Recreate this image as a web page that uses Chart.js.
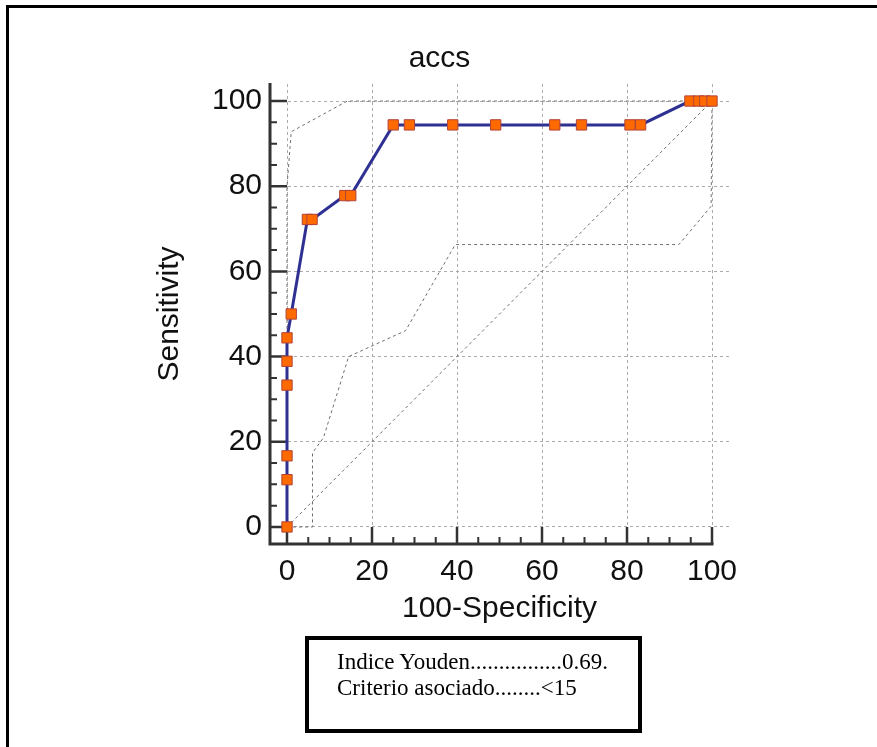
<!DOCTYPE html>
<html>
<head>
<meta charset="utf-8">
<title>accs</title>
<script src="https://cdn.jsdelivr.net/npm/chart.js@4.4.1/dist/chart.umd.min.js"></script>
<style>
  body { margin: 0; background: #fff; }
  #wrap { position: relative; width: 877px; height: 747px; overflow: hidden; }
  #roc { position: absolute; left: 0; top: 0; }
  #frame { position: absolute; left: 6px; top: 5px; right: 0; bottom: 0;
           border-left: 3px solid #000; border-top: 3px solid #000; }
  #youden { position: absolute; left: 305px; top: 636px; width: 329px; height: 89px;
            border: 4px solid #000; background: #fff;
            font: 23px "Liberation Serif", "Times New Roman", serif; line-height: 26px;
            color: #000; }
  #youden div { position: relative; left: 28px; top: 9px; white-space: nowrap; }
</style>
</head>
<body>
<div id="wrap">
  <canvas id="roc" width="877" height="747"></canvas>
  <div id="frame"></div>
  <div id="youden">
    <div>Indice Youden................0.69.</div>
    <div>Criterio asociado........&lt;15</div>
  </div>
</div>
<script>
// ROC curve (100-Specificity, Sensitivity)
const rocFpr  = [0, 0, 0, 0, 0, 0, 1.0, 4.8, 5.9, 13.6, 15.0, 25.0, 28.8, 39.0, 49.1, 63.0, 69.3, 80.7, 83.2, 94.8, 96.9, 98.3, 100];
const rocSens = [0, 11.1, 16.7, 33.3, 38.9, 44.4, 50.0, 72.2, 72.2, 77.8, 77.8, 94.4, 94.4, 94.4, 94.4, 94.4, 94.4, 94.4, 94.4, 100, 100, 100, 100];

// confidence bounds (dotted)
const upperFpr  = [0, 0, 1.0, 14.2, 100];
const upperSens = [0, 80.0, 92.8, 100, 100];
const lowerFpr  = [0, 6.0, 6.0, 8.6, 14.5, 27.9, 39.6, 92.2, 99.8, 100];
const lowerSens = [0, 0, 17.4, 21.0, 40.0, 46.1, 66.3, 66.3, 75.3, 100];

// chance line
const diagFpr  = [0, 100];
const diagSens = [0, 100];

const xTicks = [0, 20, 40, 60, 80, 100];
const yTicks = [0, 20, 40, 60, 80, 100];
const minorStep = 5;

const pts = (xs, ys) => xs.map((v, i) => ({x: v, y: ys[i]}));

const txtFont = {family: "'Liberation Sans', Arial, sans-serif", size: 30, weight: 'normal'};

const rocAxes = {
  id: 'rocAxes',
  beforeDatasetsDraw(chart) {
    const {ctx, chartArea: a, scales: {x, y}} = chart;
    const x0 = x.getPixelForValue(0), y0 = y.getPixelForValue(0);
    ctx.save();
    ctx.strokeStyle = '#333';
    ctx.lineCap = 'butt';
    // axis lines
    ctx.lineWidth = 3;
    ctx.beginPath();
    ctx.moveTo(a.left, a.top - 1);
    ctx.lineTo(a.left, a.bottom);
    ctx.lineTo(x.getPixelForValue(100) + 1.5, a.bottom);
    ctx.stroke();
    // ticks, pointing inward
    for (let v = 0; v <= 100; v += minorStep) {
      const major = xTicks.includes(v);
      ctx.lineWidth = major ? 2.5 : 2;
      const px = x.getPixelForValue(v);
      const py = y.getPixelForValue(v);
      ctx.beginPath();
      ctx.moveTo(px, a.bottom);
      ctx.lineTo(px, major ? y0 : a.bottom - 7);
      ctx.moveTo(a.left, py);
      ctx.lineTo(major ? x0 : a.left + 7, py);
      ctx.stroke();
    }
    ctx.restore();
  }
};

new Chart(document.getElementById('roc'), {
  type: 'scatter',
  data: {
    datasets: [
      {
        label: 'ROC',
        data: pts(rocFpr, rocSens),
        showLine: true,
        borderColor: '#2e3192',
        borderWidth: 3,
        pointStyle: 'rect',
        pointRadius: 7.3,
        pointBackgroundColor: '#ff6a00',
        pointBorderColor: '#b0443a',
        pointBorderWidth: 1
      },
      {
        label: 'upper',
        data: pts(upperFpr, upperSens),
        showLine: true, pointRadius: 0,
        borderColor: '#6f6f6f', borderWidth: 1, borderDash: [3, 3]
      },
      {
        label: 'lower',
        data: pts(lowerFpr, lowerSens),
        showLine: true, pointRadius: 0,
        borderColor: '#6f6f6f', borderWidth: 1, borderDash: [3, 3]
      },
      {
        label: 'diag',
        data: pts(diagFpr, diagSens),
        showLine: true, pointRadius: 0,
        borderColor: '#6f6f6f', borderWidth: 1, borderDash: [3, 3]
      }
    ]
  },
  options: {
    responsive: false,
    animation: false,
    events: [],
    layout: {padding: {left: 150, right: 148, top: 0, bottom: 120}},
    plugins: {
      legend: {display: false},
      tooltip: {enabled: false},
      title: {
        display: true,
        text: 'accs',
        color: '#111',
        font: txtFont,
        padding: {top: 40.5, bottom: 7.5}
      }
    },
    scales: {
      x: {
        type: 'linear',
        min: -4, max: 104,
        afterBuildTicks: s => { s.ticks = xTicks.map(v => ({value: v})); },
        afterFit: s => { s.height = 83; },
        ticks: {color: '#111', font: txtFont, padding: 10, includeBounds: false},
        grid: {color: '#ababab', lineWidth: 1, drawTicks: false},
        border: {display: false, dash: [3, 3]},
        title: {display: true, text: '100-Specificity', color: '#111', font: txtFont, padding: 0}
      },
      y: {
        type: 'linear',
        min: -4, max: 104,
        afterBuildTicks: s => { s.ticks = yTicks.map(v => ({value: v})); },
        afterFit: s => { s.width = 120; },
        ticks: {color: '#111', font: txtFont, padding: 8, includeBounds: false},
        grid: {color: '#ababab', lineWidth: 1, drawTicks: false},
        border: {display: false, dash: [3, 3]},
        title: {display: true, text: 'Sensitivity', color: '#111', font: txtFont, padding: {top: 2, bottom: 0}}
      }
    }
  },
  plugins: [rocAxes]
});
</script>
</body>
</html>
